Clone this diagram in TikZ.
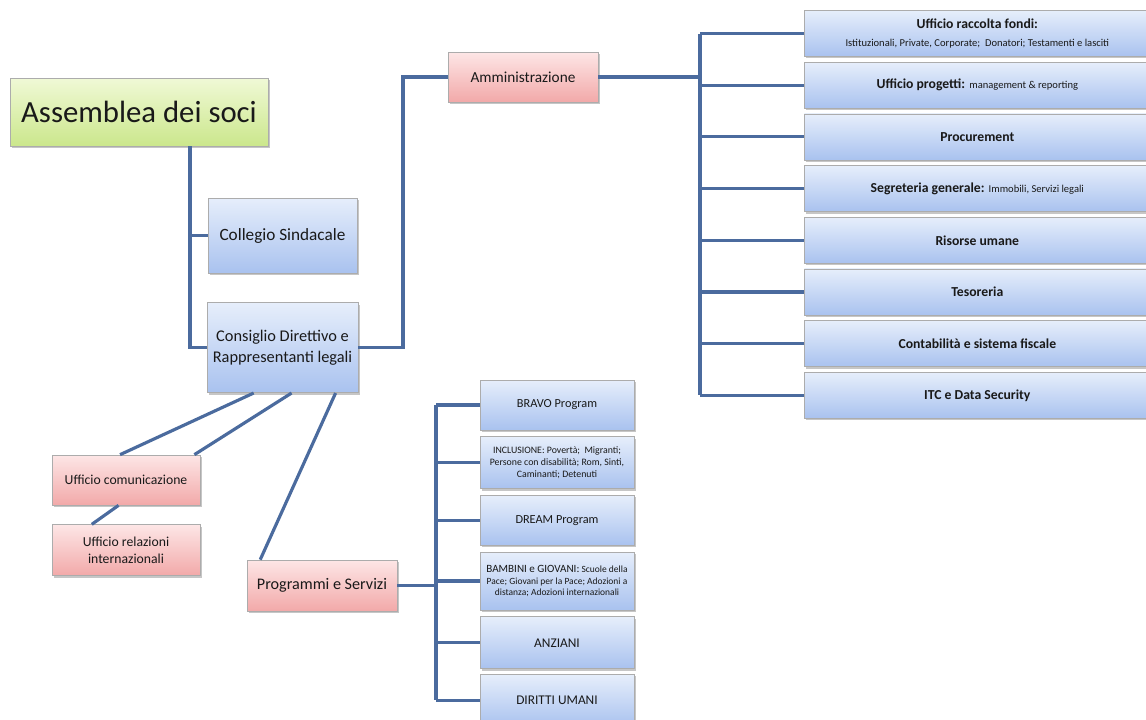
\documentclass[tikz,border=0pt]{standalone}
\usepackage{fontspec}
\setmainfont{Carlito}
\usetikzlibrary{positioning,calc,shadows}
\definecolor{linea}{HTML}{4B6B9E}
\definecolor{bluetop}{HTML}{E6EEFB}
\definecolor{bluebot}{HTML}{A9C2EF}
\definecolor{redtop}{HTML}{FDE6E6}
\definecolor{redbot}{HTML}{F2A9A9}
\definecolor{greentop}{HTML}{F0F9D6}
\definecolor{greenbot}{HTML}{CBE78C}

\begin{document}
\begin{tikzpicture}[x=0.02cm, y=-0.02cm,
  box/.style={rectangle, draw=gray!65, line width=0.4pt, align=center, inner sep=1pt, text=black!90, drop shadow={opacity=0.45, shadow xshift=0.9pt, shadow yshift=-1.1pt}},
  bluebox/.style={box, top color=bluetop, bottom color=bluebot},
  redbox/.style={box, top color=redtop, bottom color=redbot},
  greenbox/.style={box, top color=greentop, bottom color=greenbot},
  office/.style={bluebox, minimum width=6.92cm, minimum height=0.92cm, font=\fontsize{7.8}{9.5}\selectfont},
  program/.style={bluebox, minimum width=3.08cm, minimum height=1.04cm, font=\fontsize{7}{8}\selectfont},
  link/.style={draw=linea, line width=1.8pt}]

\clip (0,0) rectangle (1146,720);

% ORGANI

\node [greenbox, minimum width=5.16cm, minimum height=1.36cm, font=\fontsize{17.5}{21}\selectfont] (assemblea) at (139,112) {Assemblea dei soci};

\node [bluebox, minimum width=2.98cm, minimum height=1.5cm, font=\fontsize{9.8}{12}\selectfont] (collegio) at (282.5,235.5) {Collegio Sindacale};

\node [bluebox, minimum width=3.02cm, minimum height=1.8cm, font=\fontsize{9.3}{11.5}\selectfont, below=0.58cm of collegio] (consiglio)
{Consiglio Direttivo e\\Rappresentanti legali};

\node [redbox, minimum width=3cm, minimum height=1cm, font=\fontsize{8.7}{10}\selectfont] (amministrazione) at (523,77) {Amministrazione};

\node [redbox, minimum width=2.96cm, minimum height=1cm, font=\fontsize{7.8}{9}\selectfont] (comunicazione) at (126,480) {Ufficio comunicazione};

\node [redbox, minimum width=2.96cm, minimum height=1.02cm, font=\fontsize{7.8}{9.5}\selectfont, below=0.38cm of comunicazione] (relazioni)
{Ufficio relazioni\\internazionali};

\node [redbox, minimum width=3cm, minimum height=1.02cm, font=\fontsize{9.2}{11}\selectfont] (programmi) at (322,585.5) {Programmi e Servizi};

% UFFICI AMMINISTRAZIONE

\node [office, anchor=west] (raccolta) at (804,33.5)
{\textbf{Ufficio raccolta fondi:}\\[1pt]{\fontsize{6}{7}\selectfont Istituzionali, Private, Corporate;~ Donatori; Testamenti e lasciti}};

\node [office, below=0.1cm of raccolta] (progetti)
{\textbf{Ufficio progetti:} {\fontsize{6}{7}\selectfont management \& reporting}};

\node [office, below=0.1cm of progetti] (procurement) {\textbf{Procurement}};

\node [office, below=0.1cm of procurement] (segreteria)
{\textbf{Segreteria generale:} {\fontsize{6}{7}\selectfont Immobili, Servizi legali}};

\node [office, below=0.1cm of segreteria] (risorse) {\textbf{Risorse umane}};

\node [office, below=0.1cm of risorse] (tesoreria) {\textbf{Tesoreria}};

\node [office, below=0.1cm of tesoreria] (contabilita) {\textbf{Contabilità e sistema fiscale}};

\node [office, below=0.1cm of contabilita] (itc) {\textbf{ITC e Data Security}};

% PROGRAMMI

\node [program, minimum height=1cm] (bravo) at (557,405) {BRAVO Program};

\node [program, below=0.12cm of bravo, font=\fontsize{5.6}{6.6}\selectfont] (inclusione)
{INCLUSIONE: Povertà;~ Migranti;\\Persone con disabilità; Rom, Sinti,\\Caminanti; Detenuti};

\node [program, minimum height=1cm, below=0.12cm of inclusione] (dream) {DREAM Program};

\node [program, minimum height=1.16cm, below=0.12cm of dream, font=\fontsize{5.4}{6.6}\selectfont] (bambini)
{{\fontsize{6.3}{7}\selectfont BAMBINI e GIOVANI:} Scuole della\\Pace; Giovani per la Pace; Adozioni a\\distanza; Adozioni internazionali};

\node [program, below=0.12cm of bambini, font=\fontsize{7.6}{9}\selectfont] (anziani) {ANZIANI};

\node [program, below=0.1cm of anziani, font=\fontsize{7.6}{9}\selectfont] (diritti) {DIRITTI UMANI};

% LEGAMI

\coordinate (lbus) at (190,0);
\coordinate (abus) at (403,0);
\coordinate (rbus) at (700,0);
\coordinate (pbus) at (436,0);

\draw [link] (assemblea.south -| lbus) |- (consiglio.west);
\draw [link] (collegio.west) -- (collegio.west -| lbus);
\draw [link] (consiglio.east) -| (abus |- consiglio.east) |- (amministrazione.west);

\draw [link] (amministrazione.east) -- (amministrazione.east -| rbus);
\draw [link] (raccolta.west -| rbus) -- (itc.west -| rbus);
\foreach \u in {raccolta,progetti,procurement,segreteria,risorse,tesoreria,contabilita,itc}
  \draw [link] (\u.west) -- (\u.west -| rbus);

\draw [link] ($(consiglio.south west)!0.31!(consiglio.south east)$) -- ($(comunicazione.north west)!0.46!(comunicazione.north east)$);
\draw [link] ($(consiglio.south west)!0.56!(consiglio.south east)$) -- ($(comunicazione.north west)!0.96!(comunicazione.north east)$);
\draw [link] ($(consiglio.south west)!0.85!(consiglio.south east)$) -- ($(programmi.north west)!0.09!(programmi.north east)$);
\draw [link] ($(comunicazione.south west)!0.45!(comunicazione.south east)$) -- ($(relazioni.north west)!0.27!(relazioni.north east)$);

\draw [link] (programmi.east) -- (programmi.east -| pbus);
\draw [link] (bravo.west -| pbus) -- (diritti.west -| pbus);
\foreach \p in {bravo,inclusione,dream,bambini,anziani,diritti}
  \draw [link] (\p.west) -- (\p.west -| pbus);

\end{tikzpicture}
\end{document}
